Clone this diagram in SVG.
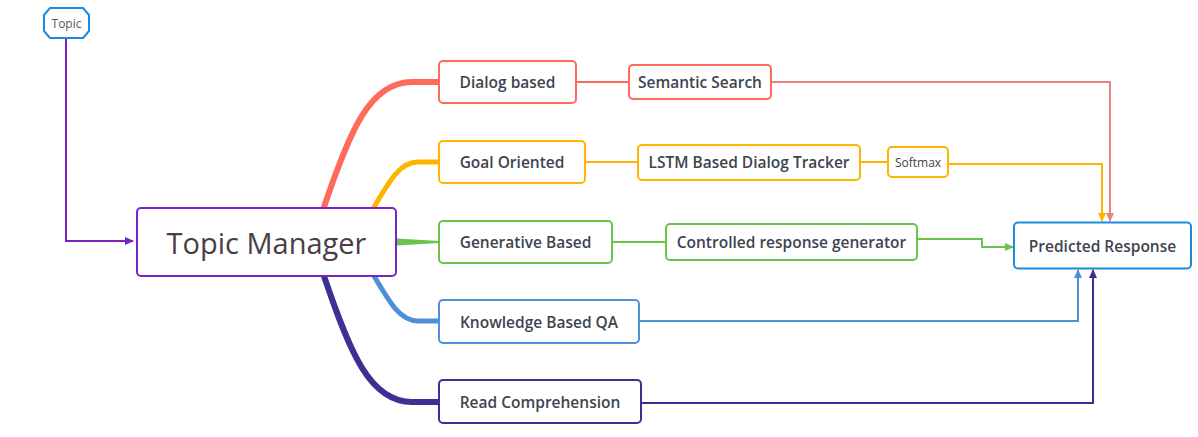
<svg xmlns="http://www.w3.org/2000/svg" width="1198" height="437" viewBox="0 0 1198 437">
<defs>
<style>
.lbl{font-family:"Open Sans","Noto Sans","Liberation Sans",sans-serif;font-size:15.5px;fill:#3d4450;font-weight:600;text-anchor:middle;dominant-baseline:central}
.box{fill:#fff;stroke-width:2}
.br{fill:none;stroke-linecap:round}
.con{fill:none;stroke-width:2}
</style>
<marker id="aPurple" markerWidth="10" markerHeight="10" refX="8" refY="5" orient="auto" markerUnits="userSpaceOnUse"><path d="M0,1 L9,5 L0,9 Z" fill="#7a22c2"/></marker>
<marker id="aRed" markerWidth="10" markerHeight="10" refX="8" refY="5" orient="auto" markerUnits="userSpaceOnUse"><path d="M0,1 L9,5 L0,9 Z" fill="#e8847c"/></marker>
<marker id="aOrange" markerWidth="10" markerHeight="10" refX="8" refY="5" orient="auto" markerUnits="userSpaceOnUse"><path d="M0,1 L9,5 L0,9 Z" fill="#ffb000"/></marker>
<marker id="aGreen" markerWidth="10" markerHeight="10" refX="8" refY="5" orient="auto" markerUnits="userSpaceOnUse"><path d="M0,1 L9,5 L0,9 Z" fill="#6cc24a"/></marker>
<marker id="aBlue" markerWidth="10" markerHeight="10" refX="8" refY="5" orient="auto" markerUnits="userSpaceOnUse"><path d="M0,1 L9,5 L0,9 Z" fill="#5090da"/></marker>
<marker id="aNavy" markerWidth="10" markerHeight="10" refX="8" refY="5" orient="auto" markerUnits="userSpaceOnUse"><path d="M0,1 L9,5 L0,9 Z" fill="#3e2f93"/></marker>
</defs>
<rect width="1198" height="437" fill="#fff"/>

<g id="connectors">
<path class="con" d="M66,38 L66,241 L133,241" stroke="#7a22c2" marker-end="url(#aPurple)"/>
<path class="br" d="M324,207 C350,130 370,82 412,82 L439,82" stroke="#ff6b5a" stroke-width="6"/>
<path class="br" d="M374,207 C390,180 400,162 418,162 L439,162" stroke="#ffb400" stroke-width="5"/>
<path d="M397,238.5 L439,241 L439,243 L397,245.5 Z" fill="#6cc24a"/>
<path class="br" d="M374,276 C390,303 400,321 418,321 L439,321" stroke="#4f8fd8" stroke-width="5"/>
<path class="br" d="M324,276 C350,353 370,402 412,402 L439,402" stroke="#3e2f93" stroke-width="6"/>
<path class="con" d="M576,82 L629,82" stroke="#ff6b5a"/>
<path class="con" d="M585,162 L638,162" stroke="#ffb400"/>
<path class="con" d="M860,162 L888,162" stroke="#ffb400"/>
<path class="con" d="M612,242 L666,242" stroke="#6cc24a"/>
<path class="con" d="M771,82 L1110,82 L1110,221" stroke="#e8847c" marker-end="url(#aRed)"/>
<path class="con" d="M948,164 L1102,164 L1102,221" stroke="#ffb000" marker-end="url(#aOrange)"/>
<path class="con" d="M917,239 L982,239 L982,247 L1013,247" stroke="#6cc24a" marker-end="url(#aGreen)"/>
<path class="con" d="M639,321 L1078,321 L1078,270" stroke="#5090da" marker-end="url(#aBlue)"/>
<path class="con" d="M641,403 L1093,403 L1093,270" stroke="#3e2f93" marker-end="url(#aNavy)"/>
</g>

<g id="topic">
<path d="M50,8 L83,8 L89,15 L89,31 L83,38 L50,38 L44,31 L44,15 Z" fill="#fff" stroke="#1a8ce0" stroke-width="2" stroke-linejoin="round"/>
<text x="66.5" y="23" class="lbl" style="font-size:12px;font-weight:400;fill:#555a62">Topic</text>
</g>

<g id="topic-manager">
<rect x="137" y="208" width="259" height="68" rx="4" class="box" stroke="#7a22c2" stroke-width="3"/>
<text x="266.5" y="242" class="lbl" style="font-size:29px;font-weight:400;fill:#4b3d47">Topic Manager</text>
</g>

<g id="dialog-based">
<rect x="439" y="61" width="137" height="42" rx="4" class="box" stroke="#ff6b5a"/>
<text x="507.5" y="82" class="lbl">Dialog based</text>
</g>
<g id="goal-oriented">
<rect x="439" y="141" width="146" height="42" rx="4" class="box" stroke="#ffb400"/>
<text x="512" y="162" class="lbl">Goal Oriented</text>
</g>
<g id="generative-based">
<rect x="439" y="221" width="173" height="42" rx="4" class="box" stroke="#6cc24a"/>
<text x="525.5" y="242" class="lbl">Generative Based</text>
</g>
<g id="knowledge-based-qa">
<rect x="439" y="300" width="200" height="43" rx="4" class="box" stroke="#5090da"/>
<text x="539" y="321.5" class="lbl">Knowledge Based QA</text>
</g>
<g id="read-comprehension">
<rect x="439" y="380" width="202" height="43" rx="4" class="box" stroke="#3e2f93"/>
<text x="540" y="402" class="lbl">Read Comprehension</text>
</g>

<g id="semantic-search">
<rect x="629" y="65" width="142" height="34" rx="4" class="box" stroke="#ff6b5a"/>
<text x="700" y="82" class="lbl">Semantic Search</text>
</g>
<g id="lstm-tracker">
<rect x="638" y="145" width="222" height="35" rx="4" class="box" stroke="#ffb400"/>
<text x="749" y="162" class="lbl">LSTM Based Dialog Tracker</text>
</g>
<g id="softmax">
<rect x="888" y="147" width="60" height="30" rx="4" class="box" stroke="#ffb400"/>
<text x="918" y="162" class="lbl" style="font-size:12px;font-weight:400">Softmax</text>
</g>
<g id="controlled-generator">
<rect x="666" y="224" width="251" height="36" rx="4" class="box" stroke="#6cc24a"/>
<text x="791.5" y="242" class="lbl">Controlled response generator</text>
</g>

<g id="predicted-response">
<rect x="1014" y="222.5" width="177" height="46" rx="4" class="box" stroke="#1a8ce0" stroke-width="3"/>
<text x="1102.5" y="246" class="lbl">Predicted Response</text>
</g>
</svg>
